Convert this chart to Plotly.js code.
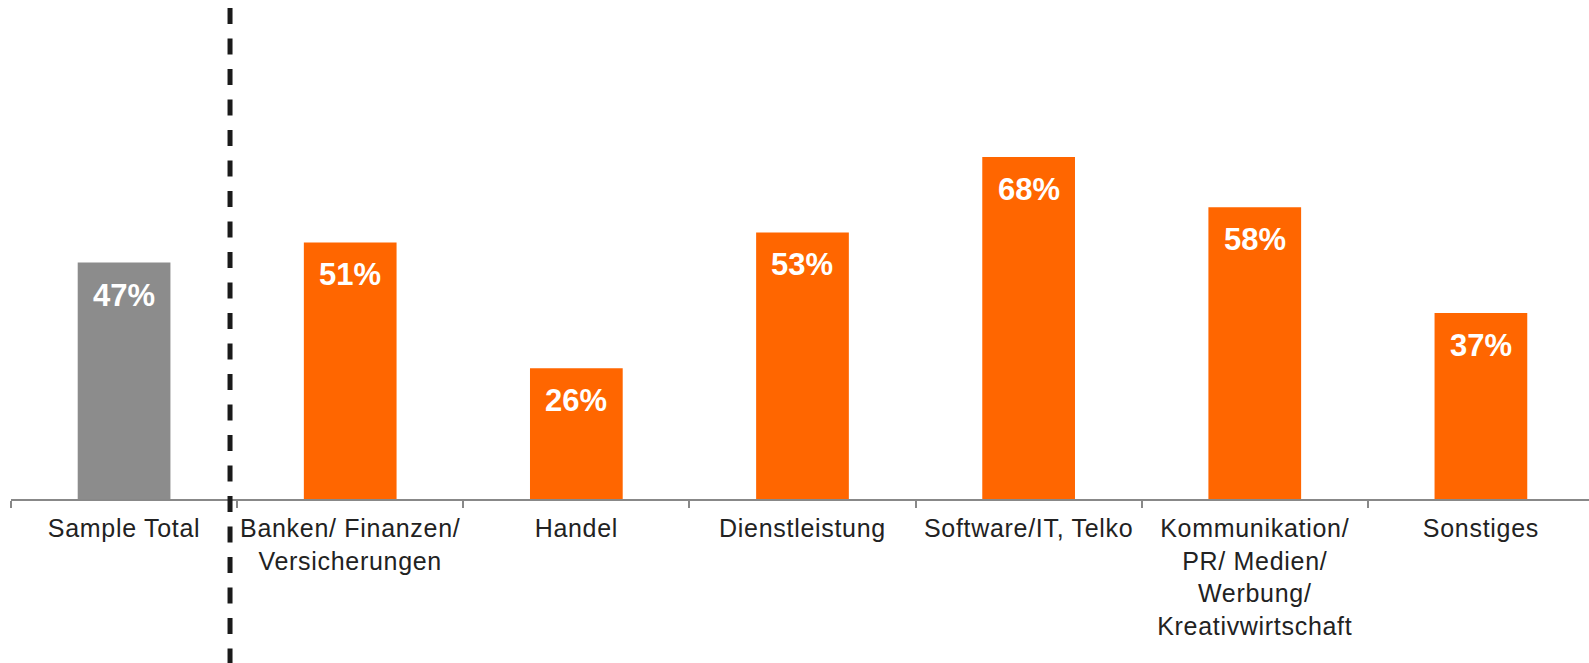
<!DOCTYPE html>
<html>
<head>
<meta charset="utf-8">
<script src="https://cdn.plot.ly/plotly-3.0.1.min.js"></script>
<style>
html,body{margin:0;padding:0;overflow:hidden;background:#fff}
.xtick text{letter-spacing:0.7px}
</style>
</head>
<body>
<div id="chart" style="width:1589px;height:663px"></div>
<script>
const categories = [
  "Sample Total",
  "Banken/ Finanzen/<br>Versicherungen",
  "Handel",
  "Dienstleistung",
  "Software/IT, Telko",
  "Kommunikation/<br>PR/ Medien/<br>Werbung/<br>Kreativwirtschaft",
  "Sonstiges"
];
const values = [47, 51, 26, 53, 68, 58, 37];
const valueLabels = ["47%", "51%", "26%", "53%", "68%", "58%", "37%"];

const barColors = categories.map((c, i) => i === 0 ? "#8C8C8C" : "#FF6600");

const trace = {
  type: "bar",
  x: categories,
  y: values,
  marker: { color: barColors, line: { width: 0 } },
  hoverinfo: "none"
};

const annotations = categories.map((c, i) => ({
  x: c, y: values[i], xref: "x", yref: "y",
  text: "<b>" + valueLabels[i] + "</b>",
  showarrow: false, yanchor: "top", yshift: -13,
  font: { family: "Liberation Sans, Arial, sans-serif", size: 31, color: "#ffffff" }
}));

const layout = {
  width: 1589, height: 663,
  margin: { l: 11, r: 0, t: 0, b: 164 },
  paper_bgcolor: "#ffffff", plot_bgcolor: "#ffffff",
  bargap: 0.59,
  showlegend: false,
  xaxis: {
    type: "category",
    range: [-0.5, 6.478],
    showline: true, linecolor: "#888888", linewidth: 2,
    ticks: "outside", tickson: "boundaries", ticklen: 7, tickcolor: "#888888", tickwidth: 2,
    ticklabelstandoff: 6,
    showgrid: false, zeroline: false,
    tickfont: { family: "Liberation Sans, Arial, sans-serif", size: 25, color: "#222222" },
    tickangle: 0, fixedrange: true
  },
  yaxis: {
    range: [0, 99.2], visible: false, showgrid: false, zeroline: false, fixedrange: true
  },
  annotations: annotations,
  shapes: [{
    type: "line", xref: "paper", yref: "paper",
    x0: 0.1388, x1: 0.1388, y0: 0.984, y1: -0.33,
    line: { color: "#1a1a1a", width: 5, dash: "16px,14.5px" }
  }]
};

Plotly.newPlot("chart", [trace], layout, { displayModeBar: false, staticPlot: true });
</script>
</body>
</html>
